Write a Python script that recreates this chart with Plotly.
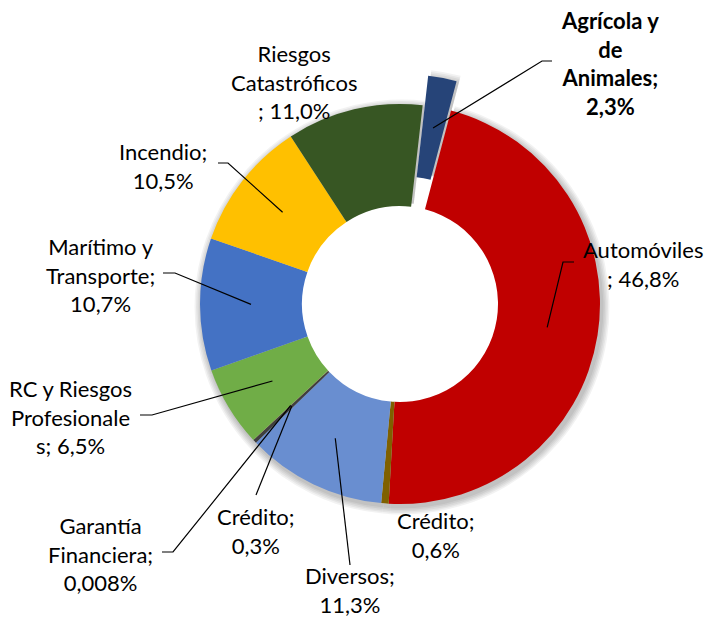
import math
import plotly.graph_objects as go

# ---------------- data ----------------
labels = ["Agrícola y de Animales", "Automóviles", "Crédito", "Diversos", "Crédito",
          "Garantía Financiera", "RC y Riesgos Profesionales", "Marítimo y Transporte",
          "Incendio", "Riesgos Catastróficos"]
values = [2.3, 46.8, 0.6, 11.3, 0.3, 0.008, 6.5, 10.7, 10.5, 11.0]
# label names as wrapped in the original chart, and separator before the value
wrapped_names = ["Agrícola y<br>de<br>Animales;", "Automóviles<br>;", "Crédito;", "Diversos;",
                 "Crédito;", "Garantía<br>Financiera;", "RC y Riesgos<br>Profesionale<br>s;",
                 "Marítimo y<br>Transporte;", "Incendio;", "Riesgos<br>Catastróficos<br>;"]
separators = ["<br>", " ", "<br>", "<br>", "<br>", "<br>", " ", "<br>", "<br>", " "]
colors = ["#264478", "#C00000", "#7F6000", "#698ED0", "#3F3F3F",
          "#9E480E", "#70AD47", "#4472C4", "#FFC000", "#375623"]
pulls = [0.15, 0, 0, 0, 0, 0, 0, 0, 0, 0]
bold = [True, False, False, False, False, False, False, False, False, False]

# ---------------- layout constants (pixels) ----------------
W, H = 708, 618
CX, CY, R = 400, 304, 200
HOLE = 0.49
ROT = 6.5
FONT = "Lato"
FS = 22

# label block centres and leader-line label-side points (pixels)
label_pos = [(610, 64), (643, 264), (435, 535), (350, 590), (255, 531),
             (100, 554), (70, 417), (100, 275), (163, 166), (294, 82)]
leader_pts = [[(552, 61), (542, 61)], [(574, 262), (563, 262)], None, [(350, 565)],
              [(256, 495)], [(162, 552), (173, 552)], [(140, 415), (152, 415)],
              [(163, 273), (175, 273)], [(218, 163), (228, 163)], None]


def px(x):
    return x / W


def py(y):
    return 1 - y / H


def fmt_pct(v):
    s = f"{v:.3f}" if v < 0.1 else f"{v:.1f}"
    return s.replace(".", ",") + "%"


def domain_for(cx, cy, r, maxpull):
    half = r * (1 + maxpull)
    return dict(x=[px(cx - half), px(cx + half)], y=[py(cy + half), py(cy - half)])


maxpull = max(pulls)
fig = go.Figure()

# soft shadow layers
for i in range(1, 6):
    rr = R + 1.5 * i
    fig.add_trace(go.Pie(
        labels=[f"s{i}_{k}" for k in range(len(values))], values=values, sort=False,
        direction="clockwise", rotation=ROT, pull=pulls, hole=(R * HOLE + 6) / rr,
        domain=domain_for(CX + 2, CY + 3, rr, maxpull),
        marker=dict(colors=["rgba(0,0,0,0.05)"] * len(values), line=dict(width=0)),
        textinfo="none", hoverinfo="skip", showlegend=False))

fig.add_trace(go.Pie(
    labels=[f"{n} ({k})" for k, n in enumerate(labels)], values=values, sort=False,
    direction="clockwise", rotation=ROT, pull=pulls, hole=HOLE,
    domain=domain_for(CX, CY, R, maxpull),
    marker=dict(colors=colors, line=dict(width=0)),
    textinfo="none", hovertext=labels, hoverinfo="text+percent", showlegend=False))

# slice mid-angles for leader lines
total = sum(values)
ang = ROT
mids = []
for v in values:
    mids.append(ang + 360 * v / total / 2)
    ang += 360 * v / total

annotations = []
shapes = []
rmid = R * (1 + HOLE) / 2
for k in range(len(values)):
    text = wrapped_names[k] + separators[k] + fmt_pct(values[k])
    if bold[k]:
        text = "<b>" + text + "</b>"
    lx, ly = label_pos[k]
    annotations.append(dict(x=px(lx), y=py(ly), xref="paper", yref="paper", text=text,
                            showarrow=False, xanchor="center", yanchor="middle", align="center",
                            font=dict(family=FONT, size=FS, color="#000000")))
    if leader_pts[k]:
        a = math.radians(mids[k])
        rr = rmid + pulls[k] * R
        ex, ey = CX + rr * math.sin(a), CY - rr * math.cos(a)
        pts = leader_pts[k] + [(ex, ey)]
        path = "M " + " L ".join(f"{px(x):.5f},{py(y):.5f}" for x, y in pts)
        shapes.append(dict(type="path", path=path, xref="paper", yref="paper",
                           line=dict(color="#000000", width=1.2)))

fig.update_layout(width=W, height=H, margin=dict(l=0, r=0, t=0, b=0),
                  paper_bgcolor="white", plot_bgcolor="white",
                  annotations=annotations, shapes=shapes, showlegend=False)

fig.write_html("out.html")
